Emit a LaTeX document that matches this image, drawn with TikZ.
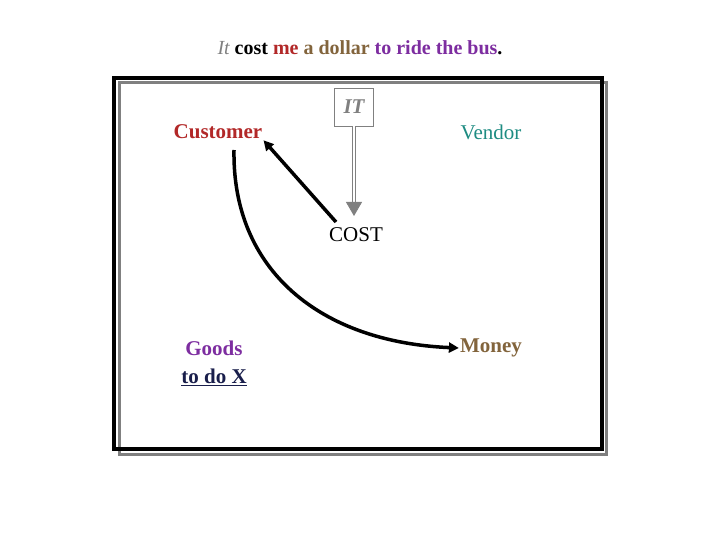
\documentclass[tikz,border=0pt]{standalone}
\usepackage{fontspec}
\setmainfont{Liberation Serif}
\usetikzlibrary{arrows.meta}
\definecolor{cred}{RGB}{178,40,40}
\definecolor{cbrown}{RGB}{130,100,60}
\definecolor{cpurple}{RGB}{125,45,160}
\definecolor{cteal}{RGB}{30,140,130}
\definecolor{cnavy}{RGB}{25,30,75}
\definecolor{cgray}{RGB}{128,128,128}
\begin{document}
\begin{tikzpicture}[x=1pt,y=-1pt,
  lbl/.style={font=\fontsize{21}{24}\selectfont, inner sep=1pt},
  blk/.style={line width=3.5pt, -{Triangle[length=10pt,width=10pt]}}]
\useasboundingbox (0,0) rectangle (720,540);
\node[font=\fontsize{20}{24}\selectfont] (title) at (360,48) {\textcolor{cgray}{\itshape It} \textbf{cost \textcolor{cred}{me} \textcolor{cbrown}{a dollar} \textcolor{cpurple}{to ride the bus}.}};
\draw[cgray, line width=3pt] (119,83) rectangle (606,454);
\draw[black, line width=4pt] (114,78) rectangle (602,449);
\node[draw=cgray, line width=0.8pt, minimum width=39pt, minimum height=38pt, text=cgray, font=\fontsize{21}{24}\selectfont\bfseries\itshape] (it) at (354,107) {IT};
\node[lbl, font=\fontsize{21}{24}\selectfont\bfseries, text=cred] (cust) at (218,132) {Customer};
\node[lbl, text=cteal] (vend) at (491,132) {Vendor};
\node[lbl, text=black] (cost) at (356,235) {COST};
\node[lbl, font=\fontsize{21}{24}\selectfont\bfseries, text=cpurple] (goods) at (214,348) {Goods};
\node[lbl, font=\fontsize{21}{24}\selectfont\bfseries, text=cnavy] (todo) at (214,377) {\underline{to do X}};
\node[lbl, font=\fontsize{21}{24}\selectfont\bfseries, text=cbrown] (money) at (491,348) {Money};
\coordinate (ittip) at (354,216);
\draw[cgray, line width=0.8pt, double=white, double distance=2.5pt, -{Triangle[length=14pt,width=16pt,fill=cgray]}] (it.south) -- (ittip);
\coordinate (cs) at (336,222);
\draw[blk] (cs) -- (cust.south east);
\coordinate (cstart) at (234,150);
\draw[blk] (cstart) .. controls (232,270) and (320,342) .. (money.west);
\end{tikzpicture}
\end{document}
